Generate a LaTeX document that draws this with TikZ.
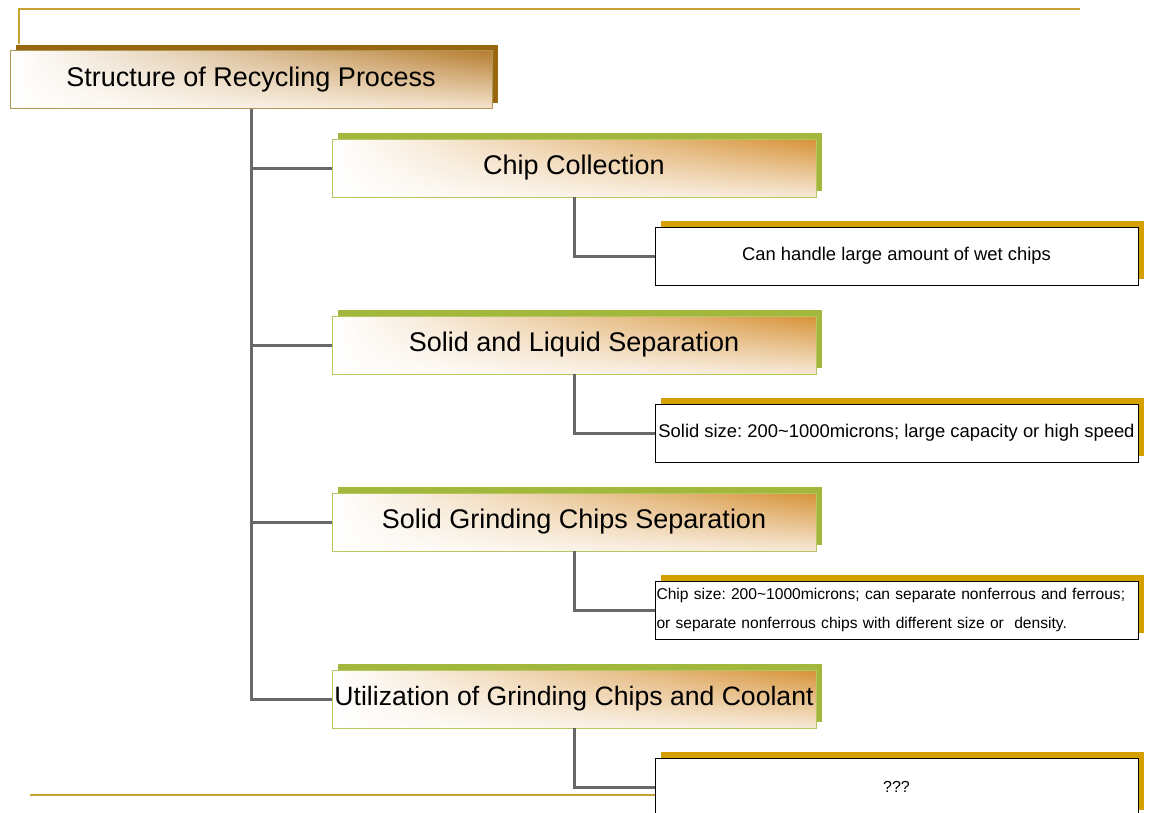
\documentclass[tikz,border=0pt]{standalone}
\usepackage{fontspec}
\setmainfont{Liberation Sans}
\usetikzlibrary{shadings,shadows}
\frenchspacing

\definecolor{framegold}{RGB}{200,162,50}
\definecolor{titleshadow}{RGB}{152,104,16}
\definecolor{titleedge}{RGB}{176,150,84}
\definecolor{stageshadow}{RGB}{162,184,60}
\definecolor{stageedge}{RGB}{182,198,96}
\definecolor{noteshadow}{RGB}{212,160,0}
\definecolor{warmorange}{RGB}{214,146,54}
\definecolor{linkgray}{RGB}{104,104,104}

\begin{document}
\begin{tikzpicture}[
  x=1pt, y=-1pt,
  titlebox/.style={rectangle, draw=titleedge, line width=0.8pt, minimum width=482pt, minimum height=58pt, inner sep=1pt,
    upper left=white, lower left=white, upper right=warmorange!85!black, lower right=white!75!warmorange,
    general shadow={fill=titleshadow, shadow xshift=6pt, shadow yshift=6pt},
    font=\fontsize{27}{30}\selectfont},
  stagebox/.style={rectangle, draw=stageedge, line width=0.8pt, minimum width=484pt, minimum height=58pt, inner sep=1pt,
    upper left=white, lower left=white, upper right=warmorange, lower right=white!80!warmorange,
    general shadow={fill=stageshadow, shadow xshift=6pt, shadow yshift=6pt},
    font=\fontsize{27}{30}\selectfont},
  notebox/.style={rectangle, draw=black, line width=0.8pt, fill=white, minimum width=483pt, minimum height=58pt, inner sep=1pt,
    general shadow={fill=noteshadow, shadow xshift=6pt, shadow yshift=6pt},
    font=\fontsize{18.4}{29}\selectfont},
  link/.style={draw=linkgray, line width=3pt}
]
  \useasboundingbox (0,0) rectangle (1156,812);

  % slide frame
  \draw[framegold, line width=1.6pt] (19,44) -- (19,9) -- (1080,9);
  \draw[framegold, line width=1.6pt] (30,795) -- (660,795);

  % top
  \node[titlebox] (title) at (251,79.5) {Structure of Recycling Process};

  % stages
  \node[stagebox, below of=title, node distance=88.5pt, xshift=323pt] (chip) {Chip Collection};
  \node[stagebox, below of=chip, node distance=177pt] (sep) {Solid and Liquid Separation};
  \node[stagebox, below of=sep, node distance=177pt] (grind) {Solid Grinding Chips Separation};
  \node[stagebox, below of=grind, node distance=177pt, inner sep=0pt, font=\fontsize{26.6}{30}\selectfont] (util) {Utilization of Grinding Chips and Coolant};

  % notes
  \node[notebox, below of=chip, node distance=88pt, xshift=322.5pt] (wet) {Can handle large amount of wet chips};
  \node[notebox, below of=sep, node distance=88pt, xshift=322.5pt] (size) {Solid size: 200\textasciitilde1000microns; large capacity or high speed};
  \node[notebox, below of=grind, node distance=88pt, xshift=322.5pt, text width=480pt, align=left, font=\fontsize{15.6}{29}\selectfont] (ferrous)
    {\mbox{Chip size: 200\textasciitilde1000microns; can separate nonferrous and ferrous;}\\\mbox{or separate nonferrous chips with different size or\ \ density.}};
  \node[notebox, below of=util, node distance=88pt, xshift=322.5pt, font=\fontsize{16}{20}\selectfont] (open) {???};

  % links
  \draw[link] (title.south) |- (util.west);
  \draw[link] (title.south |- chip.west) -- (chip.west);
  \draw[link] (title.south |- sep.west) -- (sep.west);
  \draw[link] (title.south |- grind.west) -- (grind.west);
  \draw[link] (chip.south) |- (wet.west);
  \draw[link] (sep.south) |- (size.west);
  \draw[link] (grind.south) |- (ferrous.west);
  \draw[link] (util.south) |- (open.west);

\end{tikzpicture}
\end{document}
